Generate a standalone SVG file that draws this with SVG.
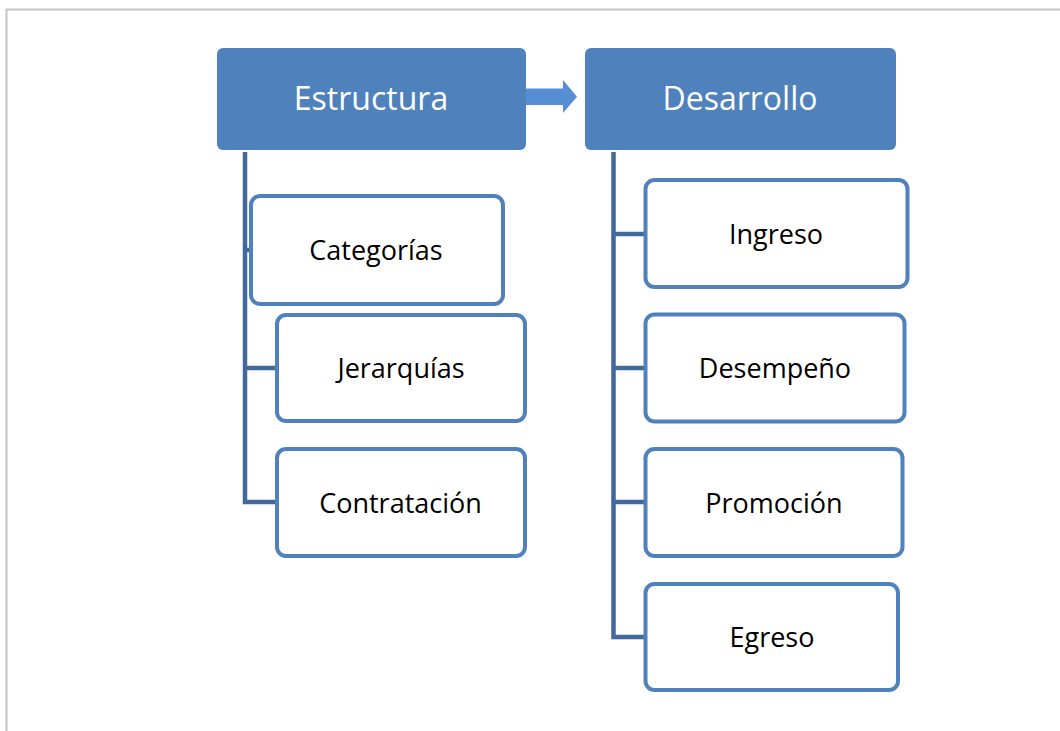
<svg xmlns="http://www.w3.org/2000/svg" width="1060" height="731" viewBox="0 0 1060 731">
<style>
.frame{fill:none;stroke:#c3c3c3;stroke-width:2}
.head rect{fill:#4f81bd}
.head text{fill:#ffffff;font-family:"Open Sans","Liberation Sans",sans-serif;font-size:32px;text-anchor:middle}
.child rect{fill:#ffffff;stroke:#4f81bd;stroke-width:4}
.child text{fill:#000000;font-family:"Open Sans","Liberation Sans",sans-serif;font-size:27px;text-anchor:middle}
.conn{fill:none;stroke:#41699b;stroke-width:4.5;stroke-linejoin:miter}
.arrow{fill:#558ed5}
</style>
<rect width="1060" height="731" fill="#ffffff"/>
<path class="frame" d="M6.5 731 V9.5 H1060"/>
<g id="connectors">
<path class="conn" d="M245 152 V502 H276 M245 250 H251 M245 368 H277"/>
<path class="conn" d="M613.5 152 V637 H645 M613.5 234 H645 M613.5 368 H645 M613.5 502 H645"/>
<path id="arrow" class="arrow" d="M519 88.5 H563 V80 L577 96.7 L563 113 V105 H519 Z"/>
</g>
<g id="estructura" class="head">
<rect x="217" y="48" width="309" height="102" rx="6"/>
<text x="371" y="110">Estructura</text>
</g>
<g id="desarrollo" class="head">
<rect x="585" y="48" width="311" height="102" rx="6"/>
<text x="740" y="110">Desarrollo</text>
</g>
<g id="categorias" class="child">
<rect x="251" y="196" width="252" height="108" rx="9"/>
<text x="376" y="259.5">Categorías</text>
</g>
<g id="jerarquias" class="child">
<rect x="277" y="315" width="248" height="106" rx="9"/>
<text x="401" y="377.5">Jerarquías</text>
</g>
<g id="contratacion" class="child">
<rect x="277" y="449" width="248" height="107" rx="9"/>
<text x="400.5" y="512.5">Contratación</text>
</g>
<g id="ingreso" class="child">
<rect x="645.5" y="180" width="262" height="107" rx="9"/>
<text x="776" y="243.5">Ingreso</text>
</g>
<g id="desempeno" class="child">
<rect x="645.5" y="314.5" width="259" height="107" rx="9"/>
<text x="775" y="377.5">Desempeño</text>
</g>
<g id="promocion" class="child">
<rect x="645.5" y="449" width="257" height="107" rx="9"/>
<text x="774" y="512.5">Promoción</text>
</g>
<g id="egreso" class="child">
<rect x="645.5" y="584" width="252.5" height="106" rx="9"/>
<text x="772" y="646.5">Egreso</text>
</g>
</svg>
